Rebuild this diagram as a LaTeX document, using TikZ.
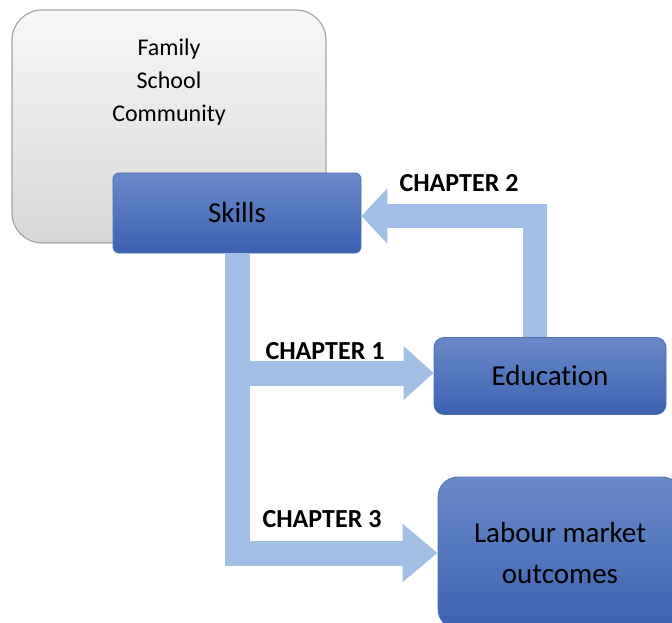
\documentclass[tikz,border=0pt]{standalone}
\usepackage{fontspec}
\setmainfont{Carlito}[Ligatures=CommonOff]
\usetikzlibrary{arrows.meta}
\definecolor{boxtop}{HTML}{6A89C8}
\definecolor{boxbottom}{HTML}{3B62B0}
\definecolor{boxline}{HTML}{4A70B8}
\definecolor{greytop}{HTML}{F8F8F8}
\definecolor{greybottom}{HTML}{D9D6D6}
\definecolor{greyline}{HTML}{A6A6A6}
\definecolor{flow}{HTML}{A2C0E5}
\tikzset{
  bluebox/.style={draw=boxline,line width=0.8pt,top color=boxtop,bottom color=boxbottom,
    align=center,inner sep=0pt,font=\fontsize{29}{41}\selectfont},
  greybox/.style={draw=greyline,line width=1.2pt,top color=greytop,bottom color=greybottom,
    rounded corners=30pt,inner sep=0pt},
  flowarrow/.style={draw=flow,line width=25pt,line join=miter},
  chapter/.style={font=\fontsize{26}{30}\selectfont\bfseries}
}
\begin{document}
\begin{tikzpicture}[x=1pt,y=-1pt]
				\useasboundingbox (0,0) rectangle (672,623);
				% boxes
				\node[greybox,minimum width=314pt,minimum height=233pt] (context) at (169,126.5) {};
				\node[align=center,font=\fontsize{24}{33}\selectfont] (contexttext) at (169,82) {Family\\School\\Community};
				\node[bluebox,rounded corners=6pt,minimum width=248pt,minimum height=80pt] (skills) at (237,213) {Skills};
				\node[bluebox,rounded corners=10pt,minimum width=232pt,minimum height=77pt] (edu) at (550,376) {Education};
				\node[bluebox,rounded corners=20pt,minimum width=244pt,minimum height=152pt] (labour) at (560,553) {Labour market\\outcomes};
				% arrows
				\draw[flowarrow,-{Triangle[width=56pt,length=35pt]}] (skills.south) |- (labour.west);
				\draw[flowarrow,-{Triangle[width=52pt,length=30pt]}] (skills.south) |- ([yshift=3pt]edu.west);
				\draw[flowarrow,line width=24pt,-{Triangle[width=54pt,length=26pt]}] ([xshift=-15pt]edu.north) |- ([yshift=-3pt]skills.east);
				% labels
				\node[chapter] (ch1) at (325,351) {CHAPTER 1};
				\node[chapter] (ch2) at (459,183) {CHAPTER 2};
				\node[chapter] (ch3) at (322,519) {CHAPTER 3};
			\end{tikzpicture}
\end{document}
